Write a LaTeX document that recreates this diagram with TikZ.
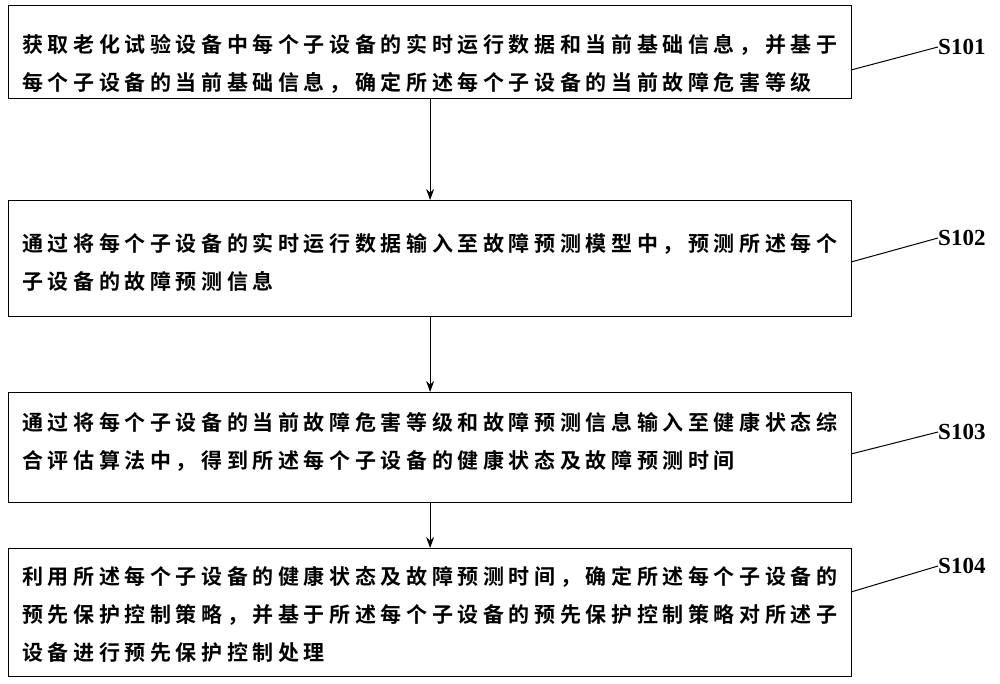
\documentclass[tikz,border=0pt]{standalone}
\usepackage{fontspec}
\setmainfont{Liberation Serif}
\newfontfamily\cjk[LetterSpace=22]{Noto Sans CJK SC Bold}
\usetikzlibrary{arrows.meta}
\begin{document}
\begin{tikzpicture}[x=1pt,y=-1pt,
  stepbox/.style={draw,line width=1.2pt},
  txt/.style={anchor=west,align=left,font=\cjk\fontsize{21}{38}\selectfont,inner sep=0},
  lab/.style={font=\bfseries\fontsize{23}{24}\selectfont,anchor=west,inner sep=0},
  arr/.style={-{Stealth[length=11pt,width=8pt]},line width=1.2pt}]
\useasboundingbox (0,0) rectangle (1000,684);
\node[stepbox,minimum width=843,minimum height=93,anchor=north west] (b1) at (8,5) {};
\node[stepbox,minimum width=843,minimum height=116,anchor=north west] (b2) at (8,200) {};
\node[stepbox,minimum width=843,minimum height=110,anchor=north west] (b3) at (8,392) {};
\node[stepbox,minimum width=843,minimum height=128,anchor=north west] (b4) at (8,548) {};
\node[txt] (t1) at (22,64) {获取老化试验设备中每个子设备的实时运行数据和当前基础信息，并基于\\每个子设备的当前基础信息，确定所述每个子设备的当前故障危害等级};
\node[txt] (t2) at (22,262) {通过将每个子设备的实时运行数据输入至故障预测模型中，预测所述每个\\子设备的故障预测信息};
\node[txt] (t3) at (22,442) {通过将每个子设备的当前故障危害等级和故障预测信息输入至健康状态综\\合评估算法中，得到所述每个子设备的健康状态及故障预测时间};
\node[txt] (t4) at (22,614) {利用所述每个子设备的健康状态及故障预测时间，确定所述每个子设备的\\预先保护控制策略，并基于所述每个子设备的预先保护控制策略对所述子\\设备进行预先保护控制处理};
\draw[arr] (b1.south) -- (b2.north);
\draw[arr] (b2.south) -- (b3.north);
\draw[arr] (b3.south) -- (b4.north);
\node[lab] (s1) at (938,47) {S101};
\node[lab] (s2) at (938,238) {S102};
\node[lab] (s3) at (938,432) {S103};
\node[lab] (s4) at (938,566) {S104};
\coordinate (c1) at (851,70); \coordinate (c2) at (851,262);
\coordinate (c3) at (851,454); \coordinate (c4) at (851,592);
\draw[line width=1pt] (c1) -- (s1.west);
\draw[line width=1pt] (c2) -- (s2.west);
\draw[line width=1pt] (c3) -- (s3.west);
\draw[line width=1pt] (c4) -- (s4.west);
\end{tikzpicture}
\end{document}
